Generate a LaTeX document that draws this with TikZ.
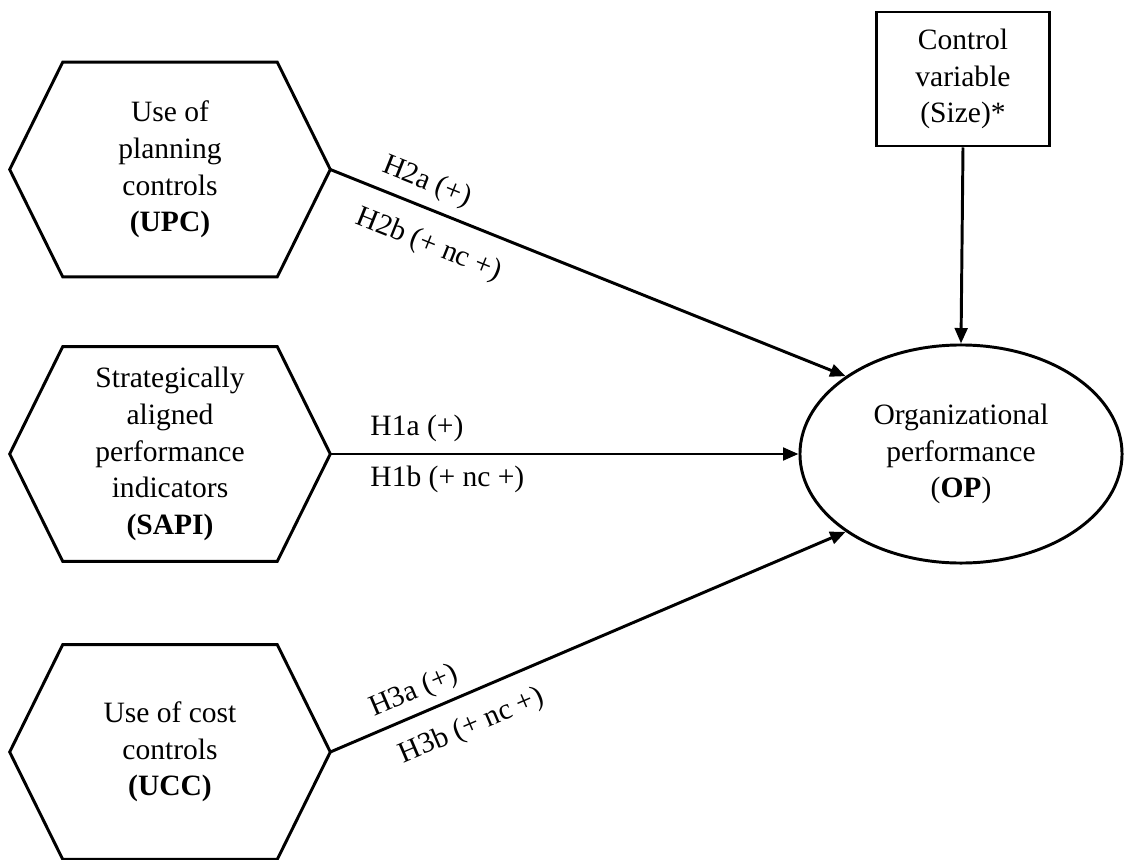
\documentclass[tikz,border=0pt]{standalone}
\usepackage{fontspec}
\setmainfont{Liberation Serif}
\usetikzlibrary{shapes.geometric,arrows.meta}
\tikzset{
  thickline/.style={line width=2.1pt},
  arrowline/.style={thickline,-{Triangle[length=11pt,width=9pt]}},
  hexbox/.style={minimum width=8cm,minimum height=5.35cm,inner sep=0pt,align=center},
  ctrlbox/.style={thickline,draw,minimum width=4.325cm,minimum height=3.35cm,inner sep=0pt,align=center},
  outbox/.style={thickline,draw,ellipse,minimum width=8.05cm,minimum height=5.45cm,inner sep=0pt,align=center}
}
\begin{document}
\begin{tikzpicture}[x=0.025cm,y=-0.025cm,font=\fontsize{21}{26}\selectfont]
\useasboundingbox (0,0) rectangle (1124,860);
\coordinate (cUPC) at (170,169.5);
\coordinate (cSAPI) at (170,454);
\coordinate (cUCC) at (170,752);
\coordinate (cCtrl) at (963,79);
\coordinate (cOP) at (961,454);

% the three constructs on the left
\node[hexbox] (upc) at (cUPC) {Use of\\planning\\controls\\\textbf{(UPC)}};
\node[hexbox] (sapi) at (cSAPI) {Strategically\\aligned\\performance\\indicators\\\textbf{(SAPI)}};
\node[hexbox] (ucc) at (cUCC) {Use of cost\\controls\\\textbf{(UCC)}};
\foreach \n in {upc,sapi,ucc}
  \draw[thickline,line join=miter] (\n.west) -- ([xshift=1.325cm]\n.north west) -- ([xshift=-1.325cm]\n.north east)
    -- (\n.east) -- ([xshift=-1.325cm]\n.south east) -- ([xshift=1.325cm]\n.south west) -- cycle;

% control variable and outcome
\node[ctrlbox] (ctrl) at (cCtrl) {Control\\variable\\(Size)*};
\node[outbox] (op) at (cOP) {Organizational\\performance\\(\textbf{OP})};

% hypotheses
\draw[arrowline] (upc.east) -- (op.146)
  node[pos=0.17,sloped,above=3pt] {H2a (+)}
  node[pos=0.215,sloped,below=10pt] {H2b (+ nc +)};
\draw[arrowline] (sapi.east) -- (op.west)
  node[pos=0.185,above=4pt] {H1a (+)}
  node[pos=0.25,below=4pt] {H1b (+ nc +)};
\draw[arrowline] (ucc.east) -- (op.214)
  node[pos=0.18,sloped,above=2pt] {H3a (+)}
  node[pos=0.25,sloped,below=9pt] {H3b (+ nc +)};
\draw[arrowline] (ctrl.south) -- (op.north);

\end{tikzpicture}
\end{document}
